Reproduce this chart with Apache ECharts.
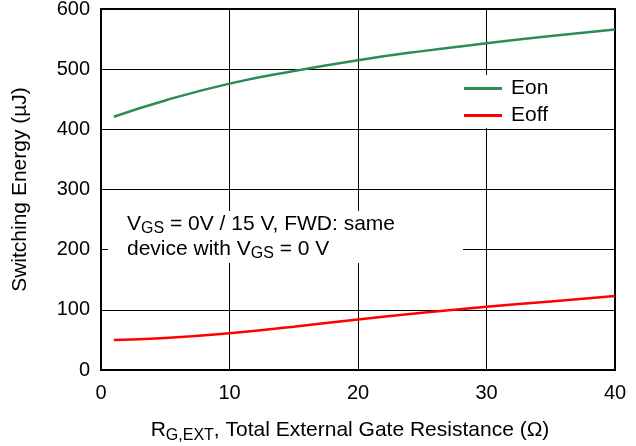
<!DOCTYPE html>
<html><head><meta charset="utf-8">
<script src="https://cdn.jsdelivr.net/npm/echarts@6/dist/echarts.min.js"></script>
<style>html,body{margin:0;padding:0;background:#fff}#c{width:636px;height:446px}</style>
</head><body><div id="c"></div>
<script>
var rg = [1, 5, 10, 15, 20, 25, 30, 35, 40];
var eon = [421, 448, 476, 497, 515, 530, 543, 555, 566];
var eoff = [50, 53, 61, 72, 84, 95, 105, 114, 123];
var xTicks = [0, 10, 20, 30, 40];
var yTicks = [0, 100, 200, 300, 400, 500, 600];

var FONT = 'Liberation Sans, Arial, Helvetica, sans-serif';
var chart = echarts.init(document.getElementById('c'), null, {renderer: 'canvas'});
function pairs(xs, ys) { return xs.map(function (x, i) { return [x, ys[i]]; }); }

chart.setOption({
  animation: false,
  backgroundColor: '#fff',
  textStyle: {fontFamily: FONT},
  grid: {left: 101, top: 9, width: 514, height: 361, show: true, borderColor: '#000', borderWidth: 2,
         backgroundColor: 'transparent', containLabel: false, outerBoundsMode: 'none'},
  legend: {
    data: [{name: 'Eon', icon: 'rect'}, {name: 'Eoff', icon: 'rect'}],
    orient: 'vertical', left: 455, top: 75,
    backgroundColor: '#fff', padding: [3, 12, 2, 9],
    itemWidth: 38, itemHeight: 3, itemGap: 6,
    textStyle: {fontSize: 21, lineHeight: 20, color: '#000', fontFamily: FONT, padding: [0, 0, 0, 4]}
  },
  xAxis: {
    type: 'value', min: xTicks[0], max: xTicks[xTicks.length - 1], interval: 10,
    axisLine: {show: true, lineStyle: {color: '#000', width: 2}},
    axisTick: {show: false},
    splitLine: {show: true, lineStyle: {color: '#000', width: 1}},
    axisLabel: {fontSize: 20, color: '#000', margin: 13, fontFamily: FONT},
    name: '{n|R}{sub|G,EXT}{n|, Total External Gate Resistance (Ω)}',
    nameLocation: 'middle', nameGap: 46,
    nameTextStyle: {
      fontFamily: FONT, color: '#000', padding: [0, 16, 0, 0],
      rich: {
        n: {fontSize: 21, color: '#000', lineHeight: 28, fontFamily: FONT},
        sub: {fontSize: 16, color: '#000', lineHeight: 14, verticalAlign: 'bottom', fontFamily: FONT}
      }
    }
  },
  yAxis: {
    type: 'value', min: yTicks[0], max: yTicks[yTicks.length - 1], interval: 100,
    axisLine: {show: true, lineStyle: {color: '#000', width: 2}},
    axisTick: {show: false},
    splitLine: {show: true, lineStyle: {color: '#000', width: 1}},
    axisLabel: {fontSize: 20, color: '#000', margin: 11, fontFamily: FONT},
    name: 'Switching Energy (µJ)', nameLocation: 'middle', nameGap: 70,
    nameTextStyle: {fontSize: 21, color: '#000', fontFamily: FONT}
  },
  graphic: [{
    type: 'text', left: 108, top: 211, z: 100, zlevel: 0,
    style: {
      text: '{n|V}{sub|GS}{n| = 0V / 15 V, FWD: same}\n{n|device with V}{sub|GS}{n| = 0 V}',
      backgroundColor: '#fff', padding: [1, 68, 1, 19],
      rich: {
        n: {fontSize: 21, fill: '#000', lineHeight: 25, fontFamily: FONT},
        sub: {fontSize: 16, fill: '#000', lineHeight: 11, verticalAlign: 'bottom', fontFamily: FONT}
      }
    }
  }],
  series: [
    {name: 'Eon', type: 'line', smooth: true, symbol: 'none', data: pairs(rg, eon),
     lineStyle: {color: '#2e8b57', width: 2.5}, itemStyle: {color: '#2e8b57'}, z: 3},
    {name: 'Eoff', type: 'line', smooth: true, symbol: 'none', data: pairs(rg, eoff),
     lineStyle: {color: '#ff0000', width: 2.5}, itemStyle: {color: '#ff0000'}, z: 3}
  ]
});
</script></body></html>
